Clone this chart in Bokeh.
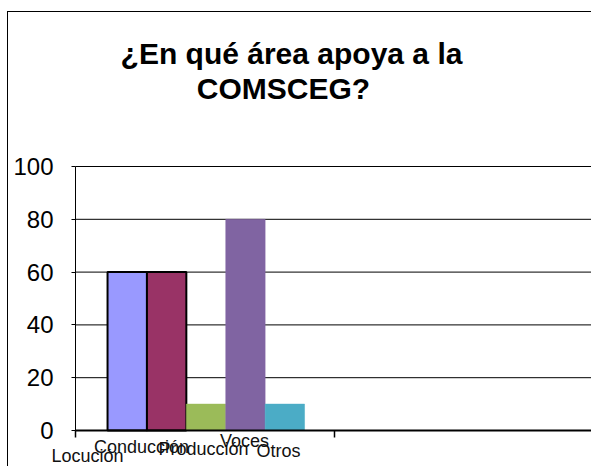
from bokeh.plotting import figure
from bokeh.models import Range1d, FixedTicker, Label
from bokeh.embed import file_html
from bokeh.resources import INLINE

# ---- data ----
categories = ["Locución", "Conducción", "Producción", "Voces", "Otros"]
values = [60, 60, 10, 80, 10]
bar_colors = ["#9999FF", "#993366", "#9BBB59", "#8064A2", "#4BACC6"]
title_lines = ["¿En qué área apoya a la", "COMSCEG?"]
y_ticks = [0, 20, 40, 60, 80, 100]
x_cat_edges = [0, 1, 2]

# ---- layout (page pixel targets) ----
FONT = "Liberation Sans"
W, H = 584, 455
ORIGIN_X, ORIGIN_Y = 8, 12          # page position of canvas top-left
AXIS_X, AXIS_Y = 75, 430            # page position of data (0, 0)
PX_CAT = 258.5                      # px per category
PX_UNIT = 2.64                      # px per y unit

def dx(page_x):
    return (page_x - AXIS_X) / PX_CAT

def dy(page_y):
    return (AXIS_Y - page_y) / PX_UNIT

p = figure(width=W, height=H,
           x_range=Range1d(dx(ORIGIN_X), dx(ORIGIN_X + W)),
           y_range=Range1d(dy(ORIGIN_Y + H), dy(ORIGIN_Y)),
           output_backend="svg", toolbar_location=None,
           min_border=0, min_border_left=0, min_border_right=0,
           min_border_top=0, min_border_bottom=0)
p.styles = {"border-left": "1px solid black", "border-top": "1px solid black",
            "margin-left": "7px", "margin-top": "11px"}
p.outline_line_color = None
p.background_fill_color = "white"
p.border_fill_color = "white"
p.xgrid.visible = False
p.ygrid.visible = False

# grid lines over the plot area only
p.segment(x0=0, x1=x_cat_edges[-1], y0=y_ticks, y1=y_ticks,
          line_color="black", line_width=1)

# y axis crossing at x = 0
p.yaxis.fixed_location = 0
p.yaxis.bounds = (0, 100)
p.yaxis.ticker = FixedTicker(ticks=y_ticks)
p.yaxis.axis_line_color = "black"
p.yaxis.major_tick_out = 4
p.yaxis.major_tick_in = 0
p.yaxis.minor_tick_line_color = None
p.yaxis.major_label_standoff = 18
p.yaxis.major_label_text_font = FONT
p.yaxis.major_label_text_font_size = "24px"
p.yaxis.major_label_text_color = "black"

# bars
n = len(values)
bw = 39.4 / PX_CAT
group_center = 0.505
xs = [group_center + (i - (n - 1) / 2) * bw for i in range(n)]
outlined = [True, True, False, False, False]
for i in range(n):
    p.vbar(x=[xs[i]], top=[values[i]], bottom=0, width=bw,
           fill_color=bar_colors[i],
           line_color="black" if outlined[i] else bar_colors[i],
           line_width=2 if outlined[i] else 0.5)

# x axis crossing at y = 0 (category boundary ticks only)
p.xaxis.fixed_location = 0
p.xaxis.bounds = (0, x_cat_edges[-1])
p.xaxis.ticker = FixedTicker(ticks=[], minor_ticks=x_cat_edges)
p.xaxis.axis_line_color = "black"
p.xaxis.axis_line_width = 2
p.xaxis.major_tick_line_color = None
p.xaxis.minor_tick_out = 7
p.xaxis.minor_tick_in = 0
p.xaxis.minor_tick_line_color = "black"
p.xaxis.minor_tick_line_width = 1.5

# category labels (staggered, overlapping as in original)
label_page_x = [87, 141, 203, 244, 278]
label_page_y = [455, 446, 448, 440, 450]
for name, lx, ly in zip(categories, label_page_x, label_page_y):
    p.add_layout(Label(x=dx(lx), y=dy(ly), text=name,
                       text_font=FONT, text_font_size="18px", text_color="#111111",
                       text_align="center", text_baseline="alphabetic"))

# title
title_page_x = [291, 283]
title_page_y = [53, 88]
for t, tx, ty in zip(title_lines, title_page_x, title_page_y):
    p.add_layout(Label(x=dx(tx), y=dy(ty), text=t, text_font=FONT,
                       text_font_size="30px", text_font_style="bold",
                       text_color="black", text_align="center",
                       text_baseline="alphabetic"))

open("out.html", "w").write(file_html(p, INLINE))
